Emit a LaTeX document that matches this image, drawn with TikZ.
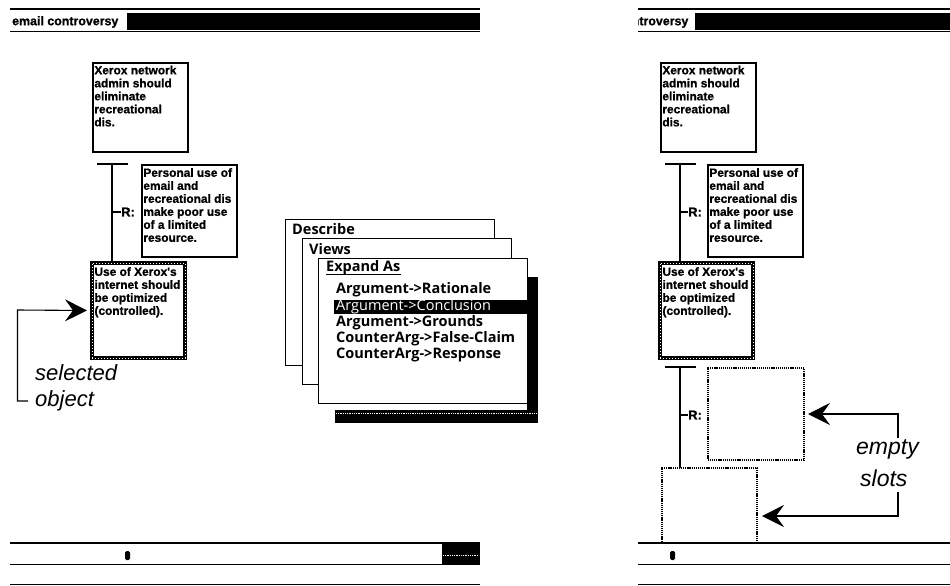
\documentclass[tikz,border=0pt]{standalone}
\usepackage{fontspec}
\setmainfont{Liberation Sans}
\newfontfamily\heavy{Liberation Sans}[FakeBold=1]
\newfontfamily\menufont{Open Sans}
\usetikzlibrary{arrows.meta}
\tikzset{
  card/.style={draw=black, line width=1.3pt, fill=white, inner sep=0pt, outer sep=0pt, anchor=north west, minimum width=95pt},
  selcard/.style={draw=black, line width=3.6pt, fill=white, inner sep=0pt, outer sep=0pt, anchor=north west, minimum width=93pt,
    postaction={draw=white, line width=0.7pt, dash pattern=on 0.7pt off 2.3pt}},
  slotbox/.style={draw=black, line width=1.3pt, dash pattern=on 1.1pt off 0.8pt, inner sep=0pt, outer sep=0pt, anchor=north west, minimum width=96pt},
  cardtext/.style={anchor=north west, inner sep=0pt, align=left, font=\heavy\bfseries\fontsize{11.9}{13}\selectfont},
  rlabel/.style={anchor=west, inner sep=0pt, font=\heavy\bfseries\fontsize{13}{13}\selectfont},
  barlabel/.style={anchor=west, inner sep=0pt, font=\heavy\bfseries\fontsize{12.4}{13}\selectfont},
  menubox/.style={draw=black, line width=1pt, fill=white, inner sep=0pt, outer sep=0pt, anchor=north west, minimum width=209pt, minimum height=146pt},
  menutitle/.style={anchor=west, inner sep=0pt, font=\menufont\bfseries\fontsize{14.5}{15}\selectfont},
  menuitem/.style={anchor=west, inner sep=0pt, font=\menufont\bfseries\fontsize{14.5}{15}\selectfont},
  note/.style={anchor=west, inner sep=0pt, font=\itshape\fontsize{22}{24}\selectfont},
  link/.style={line width=1.2pt},
  pointer/.style={line width=1.1pt, -{Stealth[length=22pt, width=22pt, inset=8pt]}},
  stipple/.style={white, line width=0.6pt, dash pattern=on 0.6pt off 1.2pt},
}
\begin{document}
\begin{tikzpicture}[x=1pt, y=-1pt]
\useasboundingbox (0,0) rectangle (950,586);
\fill[white] (0,0) rectangle (950,586);

% ---------------- left panel ----------------
\draw[line width=2pt] (10,9) -- (480,9);
\fill (127,13.5) rectangle (480,30.5);
\draw[line width=1pt] (10,31.5) -- (480,31.5);
\node[barlabel] (titleL) at (12,22) {email controversy};

\node[card, minimum height=89pt] (b1) at (93,63) {};
\node[cardtext] (b1t) at ([xshift=1.2pt, yshift=-2.5pt]b1.north west) {Xerox network\\admin should\\eliminate\\recreational\\dis.};
\node[card, minimum height=92pt] (b2) at (142,165) {};
\node[cardtext] (b2t) at ([xshift=1.2pt, yshift=-3pt]b2.north west) {Personal use of\\email and\\recreational dis\\make poor use\\of a limited\\resource.};
\node[selcard, minimum height=95pt] (b3) at (92,263) {};
\node[cardtext] (b3t) at ([xshift=2.3pt, yshift=-4pt]b3.north west) {Use of Xerox's\\internet should\\be optimized\\(controlled).};

\coordinate (tL) at (97,164);
\coordinate (tR) at (128,164);
\coordinate (tM) at (112,164);
\draw[link] (tL) -- (tR);
\draw[link] (tM) -- (tM |- b3.north);
\node[rlabel] (r1) at (121,212) {R:};
\draw[link] (tM |- r1) -- (r1.west);

\node[note] (sel) at (35,373) {selected};
\node[note] (obj) at (35,401) {object};
\coordinate (pc) at (17.5,310);
\draw[pointer] ([xshift=-7pt]obj.west) -| (pc) -- ([xshift=-5pt]b3.west);

% menus
\node[menubox] (m1) at (285,219) {};
\node[menutitle] (m1t) at (292,229) {Describe};
\node[menubox] (m2) at (302,238) {};
\node[menutitle] (m2t) at (309,249) {Views};
\fill (335,277) rectangle (538,423);
\fill[white] (335,403) rectangle (527,410);
\draw[stipple] (336,413) -- (537,413);
\node[menubox, minimum height=145pt] (m3) at (318,258) {};
\node[menutitle] (m3t) at (326,268) {Expand As};
\draw[line width=1pt] ([yshift=-3pt]m3t.base west) -- ([yshift=-3pt]m3t.base east);
\fill (334,300) rectangle (538,314);
\node[menuitem] (i1) at (336,290) {Argument->Rationale};
\node[menuitem, text=white, font=\menufont\fontsize{14.5}{15}\selectfont] (i2) at (336,307) {Argument->Conclusion};
\node[menuitem] (i3) at (336,323) {Argument->Grounds};
\node[menuitem] (i4) at (336,339) {CounterArg->False-Claim};
\node[menuitem] (i5) at (336,355) {CounterArg->Response};

% bottom bar
\draw[line width=1.5pt] (10,543) -- (480,543);
\fill (442,543) rectangle (480,565);
\draw[stipple] (443,555) -- (479,555);
\draw[line width=1pt] (10,564.5) -- (480,564.5);
\draw[line width=1.5pt] (10,584.5) -- (480,584.5);
\fill[rounded corners=1.5pt] (125,551) rectangle (130,560);

% ---------------- right panel ----------------
\begin{scope}
\clip (638,0) rectangle (950,586);
\draw[line width=2pt] (638,9) -- (950,9);
\fill (695,13.5) rectangle (950,30.5);
\draw[line width=1pt] (638,31.5) -- (950,31.5);
\node[barlabel] (titleR) at (582,22) {email controversy};

\node[card, minimum height=89pt] (c1) at (661,63) {};
\node[cardtext] (c1t) at ([xshift=1.2pt, yshift=-2.5pt]c1.north west) {Xerox network\\admin should\\eliminate\\recreational\\dis.};
\node[card, minimum height=92pt] (c2) at (708,165) {};
\node[cardtext] (c2t) at ([xshift=1.2pt, yshift=-3pt]c2.north west) {Personal use of\\email and\\recreational dis\\make poor use\\of a limited\\resource.};
\node[selcard, minimum height=95pt] (c3) at (660,263) {};
\node[cardtext] (c3t) at ([xshift=2.3pt, yshift=-4pt]c3.north west) {Use of Xerox's\\internet should\\be optimized\\(controlled).};

\coordinate (uL) at (665,164);
\coordinate (uR) at (696,164);
\coordinate (uM) at (680,164);
\draw[link] (uL) -- (uR);
\draw[link] (uM) -- (uM |- c3.north);
\node[rlabel] (r2) at (688,212) {R:};
\draw[link] (uM |- r2) -- (r2.west);

\node[slotbox, minimum height=92pt] (sA) at (708,368) {};
\node[slotbox, minimum width=95pt, minimum height=75pt] (sB) at (662,468) {};

\coordinate (vL) at (665,367);
\coordinate (vR) at (696,367);
\coordinate (vM) at (680,367);
\draw[link] (vL) -- (vR);
\draw[link] (vM) -- (vM |- sB.north);
\node[rlabel] (r3) at (688,415) {R:};
\draw[link] (vM |- r3) -- (r3.west);

\node[note, font=\itshape\fontsize{23}{24}\selectfont] (emp) at (856,449) {empty};
\node[note, font=\itshape\fontsize{23}{24}\selectfont] (slo) at (860,478) {slots};
\coordinate (ea) at (898,438);
\coordinate (eb) at (898,492);
\coordinate (ebt) at (762,516);
\draw[pointer] (ea) |- ([xshift=4pt]sA.east);
\draw[pointer] (eb) |- (ebt);

\draw[line width=1.5pt] (638,543) -- (950,543);
\draw[line width=1pt] (638,564.5) -- (950,564.5);
\draw[line width=1.5pt] (638,584.5) -- (950,584.5);
\fill[rounded corners=1.5pt] (670,551) rectangle (675,560);
\end{scope}
\end{tikzpicture}
\end{document}
